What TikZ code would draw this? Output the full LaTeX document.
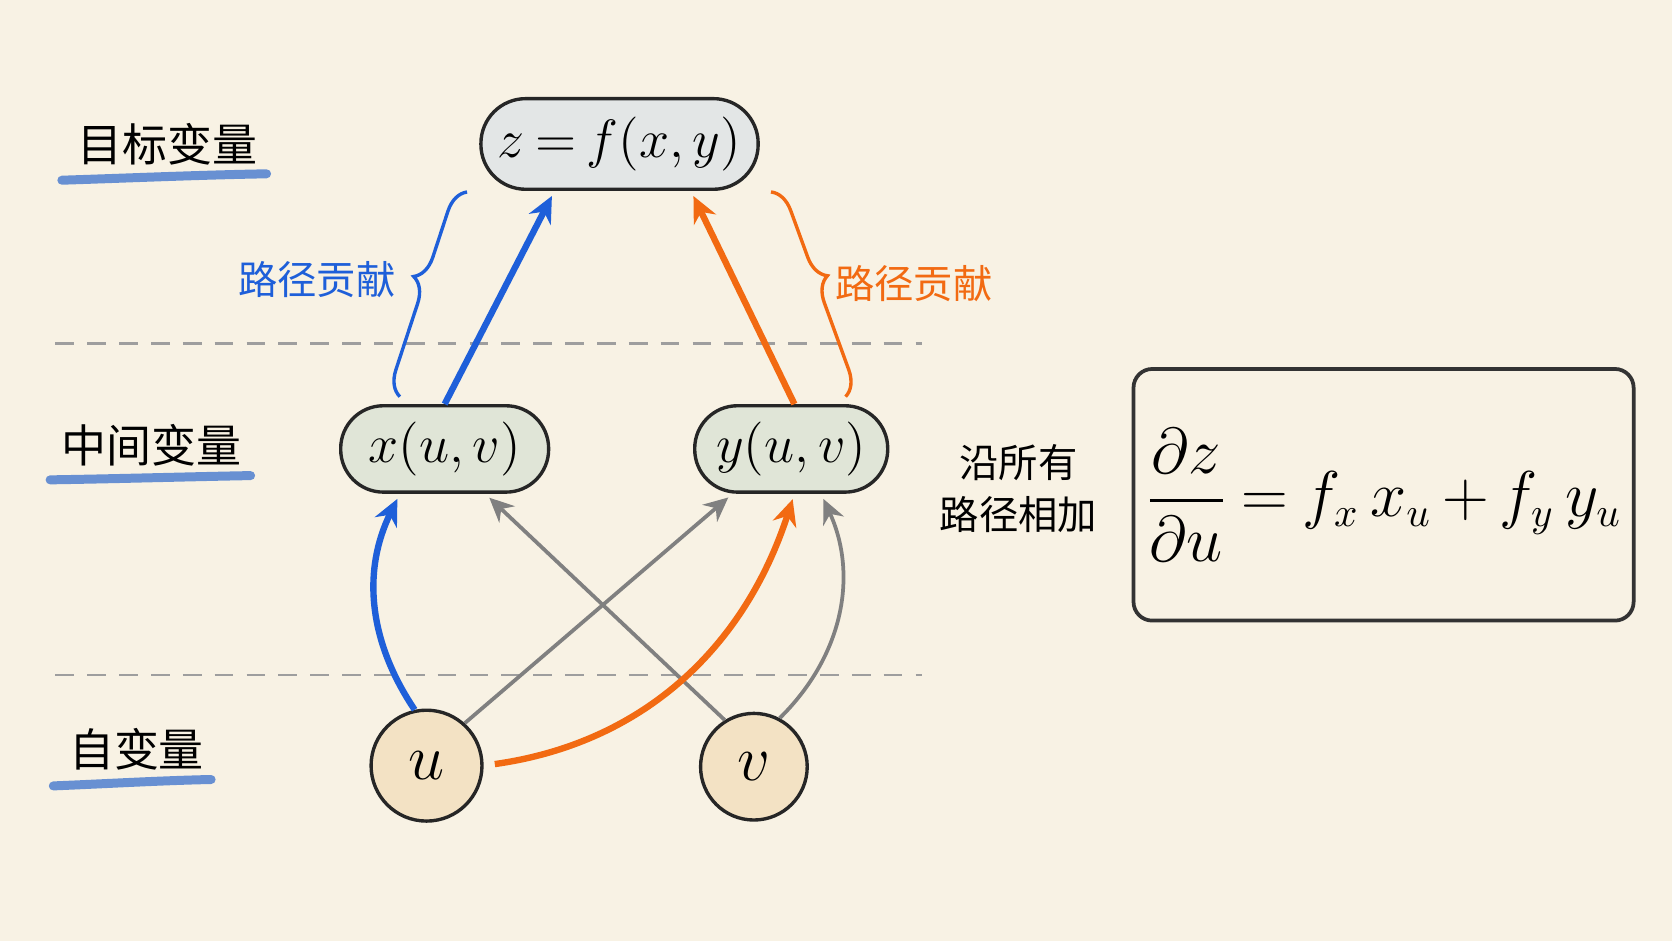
\documentclass[tikz,border=0pt]{standalone}
\usepackage{amsmath}
\usepackage{fontspec}
\newfontfamily\cjk{Noto Sans CJK SC}
\usetikzlibrary{arrows.meta,positioning,calc,decorations.pathreplacing}
\definecolor{paper}{HTML}{F8F2E4}
\definecolor{pathblue}{HTML}{1E5FD9}
\definecolor{pathorange}{HTML}{F26A12}
\definecolor{linkgray}{HTML}{808080}
\definecolor{zfill}{HTML}{E3E6E6}
\definecolor{midfill}{HTML}{E0E5D7}
\definecolor{indfill}{HTML}{F3E2C4}
\definecolor{inkblue}{HTML}{4F7FCF}

\begin{document}
\begin{tikzpicture}[
    pill/.style={draw=black!85, line width=0.9pt, inner sep=0pt, font=\fontsize{13.5}{16}\selectfont},
    leaf/.style={circle, draw=black!85, line width=0.9pt, fill=indfill, inner sep=0pt, font=\fontsize{17}{20}\selectfont},
    level/.style={font=\cjk\fontsize{12}{14}\selectfont},
    note/.style={font=\cjk\fontsize{10.5}{14}\selectfont},
    brush/.style={inkblue, line width=2.4pt, line cap=round, opacity=0.85},
    sep/.style={draw=black!38, line width=0.8pt, dash pattern=on 5pt off 3.5pt},
    contrib/.style={-{Stealth[length=7pt,width=6.5pt]}, line width=1.7pt, shorten >=1.5pt},
    cross/.style={-{Stealth[length=6.5pt,width=6pt]}, linkgray, line width=1pt, shorten >=1.5pt},
    curly/.style={line width=0.9pt, decorate},
]
    % Paper
    \fill[paper] (0, 0) rectangle (15.68, 8.82);
    \useasboundingbox (0, 0) rectangle (15.68, 8.82);

    % Level separators
    \draw[sep] (0.52, 5.60) -- (8.65, 5.60);
    \draw[sep] (0.52, 2.49) -- (8.65, 2.49);

    % Level labels
    \node[level] (toplabel) at (1.57, 7.47) {目标变量};
    \draw[brush] (0.58, 7.13) .. controls (1.2, 7.15) and (1.9, 7.18) .. (2.50, 7.19);
    \node[level] (midlabel) at (1.42, 4.64) {中间变量};
    \draw[brush] (0.47, 4.32) .. controls (1.1, 4.33) and (1.8, 4.35) .. (2.35, 4.36);
    \node[level] (lowlabel) at (1.28, 1.79) {自变量};
    \draw[brush] (0.50, 1.45) .. controls (1.0, 1.47) and (1.5, 1.50) .. (1.98, 1.51);

    % Nodes
    \node[pill, fill=zfill, rounded corners=4.2mm, minimum width=2.60cm, minimum height=0.85cm] (znode) at (5.81, 7.47) {$\thickmuskip=3.5mu z = f(x,y)$};
    \node[pill, fill=midfill, rounded corners=4mm, minimum width=1.95cm, minimum height=0.81cm] (xnode) at (4.17, 4.61) {$x(u,v)$};
    \node[pill, fill=midfill, rounded corners=4mm, minimum width=1.81cm, minimum height=0.81cm] (ynode) at (7.42, 4.61) {$y(u,v)$};
    \node[leaf, minimum size=1.04cm] (unode) at (4.00, 1.64) {$u$};
    \node[leaf, minimum size=1.00cm] (vnode) at (7.07, 1.63) {$v$};

    % Gray links
    \draw[cross] (unode.48) -- ([xshift=-5.5mm]ynode.south);
    \draw[cross] (vnode.122) -- ([xshift=3.8mm]xnode.south);
    \draw[cross] (vnode.62) to[bend right=35] ([xshift=2.8mm]ynode.south);

    % Highlighted paths
    \draw[contrib, pathblue] (unode.102) to[bend left=30] ([xshift=-4.2mm]xnode.south);
    \draw[contrib, pathblue] (xnode.north) -- ([xshift=-6.1mm]znode.south);
    \draw[contrib, pathorange, shorten <=3pt] (unode.east) to[out=8, in=-108] ([xshift=0.3mm]ynode.south);
    \draw[contrib, pathorange] ([xshift=0.3mm]ynode.north) -- ([xshift=6.7mm]znode.south);

    % Braces
    \draw[curly, pathblue, decoration={brace, amplitude=6.5pt, aspect=0.55}] (3.75, 5.10) -- (4.38, 7.02);
    \node[note, text=pathblue] (bluenote) at (2.97, 6.20) {路径贡献};
    \draw[curly, pathorange, decoration={brace, amplitude=6.5pt, aspect=0.45}] (7.23, 7.02) -- (7.93, 5.10);
    \node[note, text=pathorange] (orangenote) at (8.57, 6.16) {路径贡献};

    % Chain rule
    \node[note, align=center] (sumnote) at (9.55, 4.24) {沿所有\\路径相加};
    \node[draw=black!80, line width=1pt, rounded corners=5pt, minimum width=4.69cm, minimum height=2.36cm,
          inner sep=0pt, font=\fontsize{16}{19}\selectfont] (sumbox) at (12.975, 4.18)
        {$\displaystyle\thickmuskip=4mu\medmuskip=3mu\frac{\partial z}{\partial u} = f_x\, x_u + f_y\, y_u$};
\end{tikzpicture}
\end{document}
